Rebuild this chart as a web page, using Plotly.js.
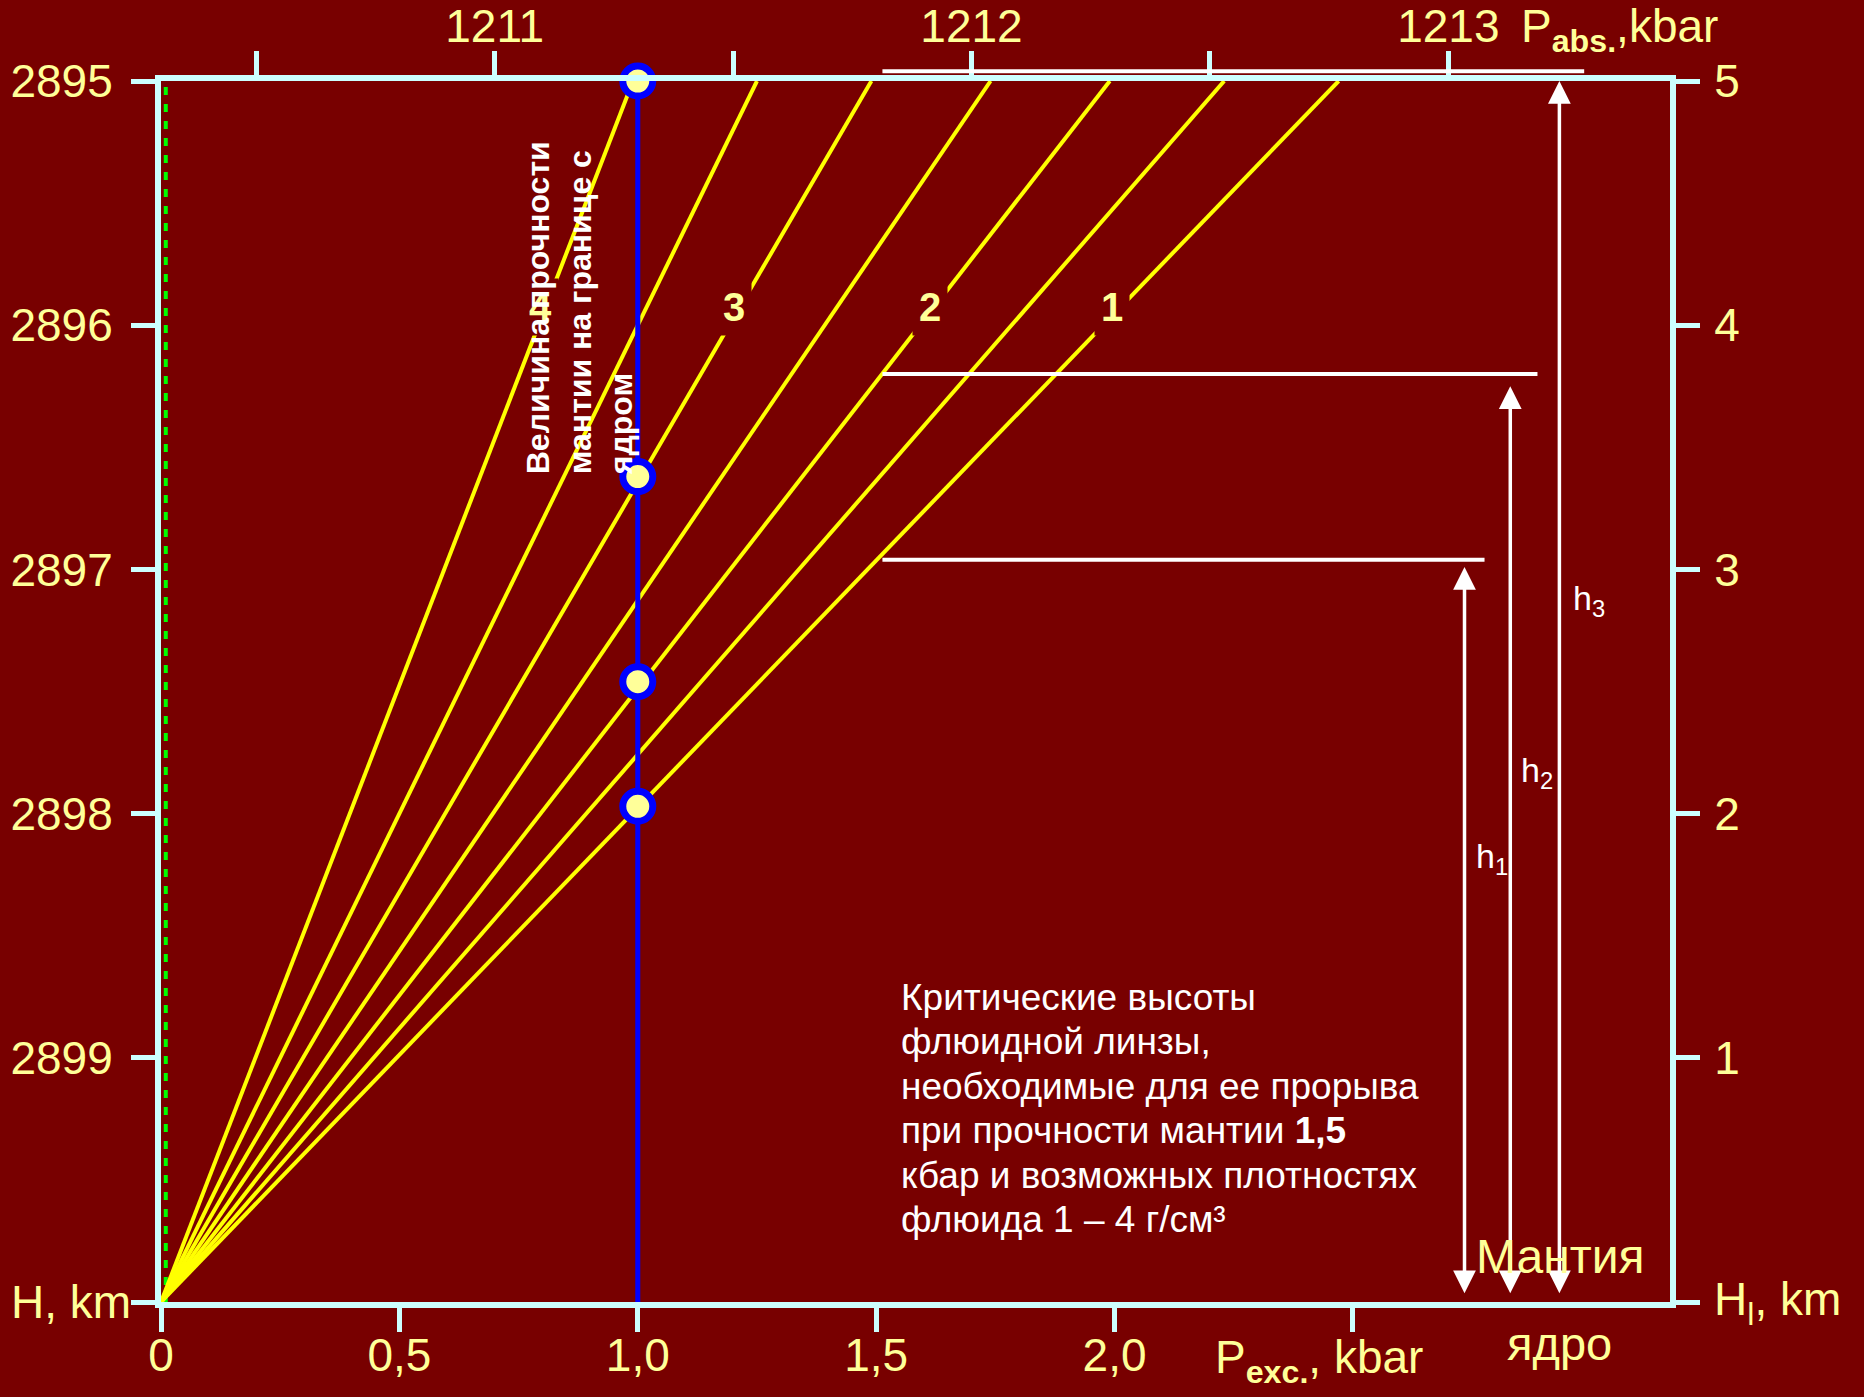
<!DOCTYPE html>
<html>
<head>
<meta charset="utf-8">
<script src="https://cdn.plot.ly/plotly-3.0.1.min.js"></script>
<style>html,body{margin:0;padding:0;background:#780000;}</style>
</head>
<body>
<div id="chart" style="width:1864px;height:1397px;"></div>
<script>
// ---- data ----
const fluidDensity = [1, 1.5, 2, 2.5, 3, 3.5, 4];               // g/cm3
const pExcAtTop = [2.47, 2.23, 1.99, 1.74, 1.49, 1.25, 0.99];      // kbar at H_l = 5 km
const lineLabels = ['1', '2', '3', '4'];
const lineLabelX = [1.994, 1.612, 1.201, 0.797];
const lineLabelY = [4.075, 4.075, 4.075, 4.075];
const strengthX = [1, 1, 1, 1];
const strengthY = [5, 3.38, 2.54, 2.03];
const hTop = 5;
const bottomTicks = [0, 0.5, 1, 1.5, 2, 2.5];
const bottomTickText = ['0', '0,5', '1,0', '1,5', '2,0', ''];
const topTicks = [1210.5, 1211, 1211.5, 1212, 1212.5, 1213];
const topTickText = ['', '1211', '', '1212', '', '1213'];
const pAbsOffset = 1210.3;
const yTicks = [0, 1, 2, 3, 4, 5];
const leftTickText = ['', '2899', '2898', '2897', '2896', '2895'];
const rightTickText = ['', '1', '2', '3', '4', '5'];
const levelY = [5.04, 3.80, 3.04];
const levelXStart = [1.51, 1.51, 1.51];
const levelXEnd = [2.985, 2.887, 2.776];
const arrowX = [2.734, 2.83, 2.933];
const arrowTop = [3.01, 3.75, 5.0];
const arrowBottom = [0.03, 0.03, 0.03];
const hLabels = ['h<sub>1</sub>', 'h<sub>2</sub>', 'h<sub>3</sub>'];
const hLabelX = [2.754, 2.848, 2.958];
const hLabelY = [1.818, 2.167, 2.873];
const noteLines = ['Критические высоты', 'флюидной линзы,', 'необходимые для ее прорыва',
  'при прочности мантии <b>1,5</b>', 'кбар и возможных плотностях', 'флюида 1 – 4 г/см³'];
const noteX = 1.548;
const noteY = [1.248, 1.066, 0.884, 0.702, 0.520, 0.338];
const xMax = 3.165;

// ---- styles ----
const BG = '#780000';
const AX = '#CCFFFF';
const LBL = '#FFFF99';
const FONT = 'Liberation Sans, Arial, sans-serif';
const px = v => v / xMax;   // data x -> paper
const py = v => v / hTop;   // data y -> paper

const traces = [];
traces.push({x: [0.01, 0.01], y: [0, hTop], mode: 'lines', line: {color: '#00FF00', width: 4, dash: '8px,9px'}, hoverinfo: 'skip'});
pExcAtTop.forEach((p, i) => {
  traces.push({x: [0, p], y: [0, hTop], mode: 'lines', name: 'ρ=' + fluidDensity[i],
    line: {color: '#FFFF00', width: 4}, hoverinfo: 'skip'});
});
traces.push({x: [strengthX[0], strengthX[0]], y: [0, hTop], mode: 'lines', line: {color: '#0000FF', width: 5}, hoverinfo: 'skip'});
traces.push({x: strengthX, y: strengthY, mode: 'markers', cliponaxis: false,
  marker: {size: 30, color: LBL, line: {color: '#0000FF', width: 7}}, hoverinfo: 'skip'});
traces.push({x: [], y: [], xaxis: 'x2', yaxis: 'y2', mode: 'markers', hoverinfo: 'skip'});

const tickFont = {family: FONT, size: 46, color: LBL};
const axisCommon = {showline: true, linecolor: AX, linewidth: 6, ticks: 'outside', ticklen: 24,
  tickwidth: 5, tickcolor: AX, showgrid: false, zeroline: false, tickfont: tickFont, fixedrange: true};

const annotations = [];
lineLabels.forEach((t, i) => {
  annotations.push({x: lineLabelX[i], y: lineLabelY[i], xref: 'x', yref: 'y', xanchor: 'center', yanchor: 'middle',
    text: '<b>' + t + '</b>', showarrow: false, font: {family: FONT, size: 40, color: LBL}, bgcolor: BG, borderpad: 6});
});
annotations.push({x: 0.877, y: 4.07, xref: 'x', yref: 'y', xanchor: 'center', yanchor: 'middle', textangle: -90, align: 'left',
  text: '<b>Величина прочности<br>мантии на границе с<br>ядром</b>', showarrow: false,
  font: {family: FONT, size: 32, color: '#FFFFFF'}});
levelY.forEach((yv, i) => {
  annotations.push({x: levelXEnd[i], y: py(yv), ax: levelXStart[i], ay: 0, xref: 'x', yref: 'paper', axref: 'x', ayref: 'pixel',
    text: '', showarrow: true, arrowhead: 0, arrowwidth: 4, arrowcolor: '#FFFFFF'});
});
arrowX.forEach((xv, i) => {
  annotations.push({x: xv, y: arrowTop[i], ax: xv, ay: arrowBottom[i], xref: 'x', yref: 'y', axref: 'x', ayref: 'y',
    text: '', showarrow: true, arrowhead: 2, startarrowhead: 2, arrowside: 'end+start', arrowsize: 1.3, startarrowsize: 1.3,
    arrowwidth: 3.5, arrowcolor: '#FFFFFF'});
  annotations.push({x: hLabelX[i], y: hLabelY[i], xref: 'x', yref: 'y', text: hLabels[i], xanchor: 'left', yanchor: 'middle',
    showarrow: false, font: {family: FONT, size: 34, color: '#FFFFFF'}});
});
noteLines.forEach((t, i) => {
  annotations.push({x: noteX, y: noteY[i], xref: 'x', yref: 'y', xanchor: 'left', yanchor: 'middle', showarrow: false,
    text: t, font: {family: FONT, size: 37, color: '#FFFFFF'}});
});
annotations.push({x: px(-0.058), y: py(0), xref: 'paper', yref: 'paper', xanchor: 'right', yanchor: 'middle', text: 'H, km', showarrow: false, font: tickFont});
annotations.push({x: px(3.253), y: py(0), xref: 'paper', yref: 'paper', xanchor: 'left', yanchor: 'middle', text: 'H<sub>l</sub>, km', showarrow: false, font: tickFont});
annotations.push({x: 2.936, y: 0.186, xref: 'x', yref: 'y', xanchor: 'center', yanchor: 'middle', text: 'Мантия', showarrow: false, font: {family: FONT, size: 48, color: LBL}});
annotations.push({x: px(2.934), y: py(-0.169), xref: 'paper', yref: 'paper', xanchor: 'center', yanchor: 'middle', text: 'ядро', showarrow: false, font: {family: FONT, size: 47, color: LBL}});
annotations.push({x: px(2.206), y: py(-0.24), xref: 'paper', yref: 'paper', xanchor: 'left', yanchor: 'middle', text: 'P<sub><b>exc.</b></sub>, kbar', showarrow: false, font: tickFont});
annotations.push({x: px(2.848), y: py(5.21), xref: 'paper', yref: 'paper', xanchor: 'left', yanchor: 'middle', text: 'P<sub><b>abs.</b></sub>,kbar', showarrow: false, font: tickFont});

const layout = {
  width: 1864, height: 1397,
  paper_bgcolor: BG, plot_bgcolor: BG,
  showlegend: false,
  margin: {l: 160.5, r: 194, t: 81, b: 95, autoexpand: false},
  xaxis: Object.assign({}, axisCommon, {range: [0, xMax], tickvals: bottomTicks, ticktext: bottomTickText, ticklabelstandoff: -16}),
  xaxis2: Object.assign({}, axisCommon, {overlaying: 'x', side: 'top', range: [pAbsOffset, pAbsOffset + xMax],
    tickvals: topTicks, ticktext: topTickText, ticklabelstandoff: -9}),
  yaxis: Object.assign({}, axisCommon, {range: [0, hTop], tickvals: yTicks, ticktext: leftTickText, ticklabelstandoff: 9}),
  yaxis2: Object.assign({}, axisCommon, {overlaying: 'y', side: 'right', range: [0, hTop], tickvals: yTicks, ticktext: rightTickText, ticklabelstandoff: 5}),
  annotations: annotations,
  font: {family: FONT}
};

Plotly.newPlot('chart', traces, layout, {displayModeBar: false, staticPlot: true});
</script>
</body>
</html>
